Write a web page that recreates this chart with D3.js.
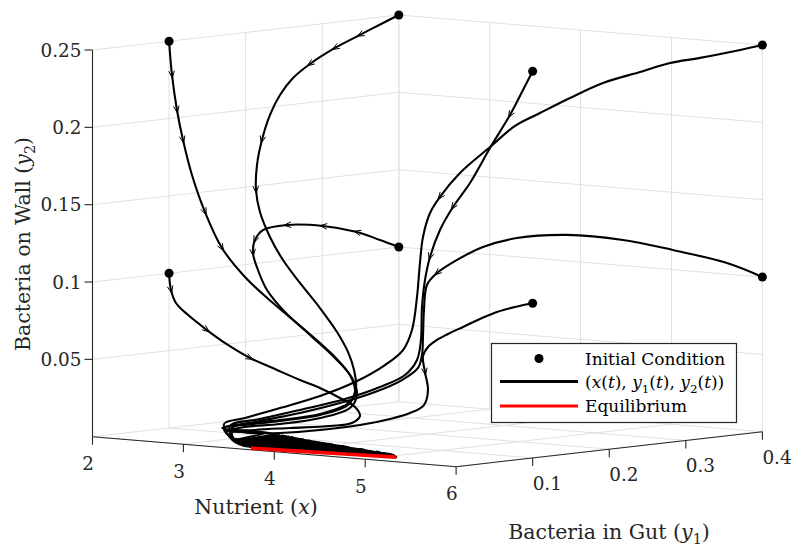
<!DOCTYPE html>
<html>
<head>
<meta charset="utf-8">
<script src="https://cdn.jsdelivr.net/npm/d3@7"></script>
<style>
body { margin: 0; background: #fff; }
svg { display: block; font-family: "DejaVu Serif", serif; }
</style>
</head>
<body>
<svg id="chart" width="793" height="548"></svg>
<script>
// axis ticks
var xTicks = [2, 3, 4, 5, 6];
var xTickLabels = ["2", "3", "4", "5", "6"];
var y1Ticks = [0.1, 0.2, 0.3, 0.4];
var y1TickLabels = ["0.1", "0.2", "0.3", "0.4"];
var zTicks = [0.05, 0.1, 0.15, 0.2, 0.25];
var zTickLabels = ["0.05", "0.1", "0.15", "0.2", "0.25"];

// initial conditions (x, y1, y2)
var icX  = [2, 2, 2, 2, 6, 6, 6, 6];
var icY1 = [0.1, 0.4, 0.4, 0.1, 0.1, 0.4, 0.4, 0.1];
var icY2 = [0.25, 0.25, 0.1, 0.1, 0.25, 0.25, 0.1, 0.1];

// trajectories [x, y1, y2] (the tail oscillates on the floor)
var traj1 = [[2,0.1,0.25],[2,0.1038,0.228],[2,0.1103,0.205],[2,0.1182,0.1851],[2,0.1299,0.1618],
  [2.1,0.135,0.1381],[2.1,0.1572,0.1136],[2.2,0.1754,0.0943],[2.2,0.212,0.0754],[2.3,0.2419,0.0568],
  [2.3,0.2784,0.0385],[2.3,0.3006,0.0243],[2.3,0.3072,0.013],[2.3,0.298,0.0051],[2.3,0.2615,0.0007],
  [2.32,0.207,0],[2.32,0.161,0],[2.35,0.13,0],
  [3.0,0.065,0],[3.1,0.113,0],[3.25,0.04,0],[3.35,0.105,0],[3.5,0.019,0],[3.6,0.095,0],[3.75,0.017,0],
  [3.85,0.086,0],[4.0,0.02,0],[4.1,0.076,0],[4.25,0.021,0],[4.35,0.067,0],[4.5,0.022,0],[4.6,0.058,0],
  [4.75,0.025,0],[4.85,0.048,0],[5.05,0.03,0]];
var traj2 = [[2,0.4,0.25],[2,0.382,0.2465],[2,0.3493,0.24],[2,0.3167,0.2334],[2,0.284,0.2249],
  [2,0.2618,0.2171],[2,0.2448,0.2071],[2,0.2318,0.1949],[2,0.2213,0.1793],[2,0.2148,0.1635],
  [2,0.2135,0.1474],[2,0.2187,0.1329],[2.1,0.2199,0.1172],[2.1,0.2369,0.1013],[2.2,0.2472,0.0864],
  [2.2,0.2733,0.0687],[2.3,0.2837,0.0531],[2.3,0.298,0.0394],[2.3,0.3059,0.0273],[2.3,0.3085,0.0155],
  [2.3,0.3006,0.0069],[2.3,0.2615,0.0013],[2.26,0.2135,0],[2.26,0.168,0],[2.34,0.129,0],
  [3.0,0.116,0],[3.15,0.05,0],[3.25,0.108,0],[3.4,0.027,0],[3.5,0.099,0],[3.65,0.016,0],[3.75,0.09,0],
  [3.9,0.019,0],[4.0,0.08,0],[4.15,0.02,0],[4.25,0.07,0],[4.4,0.022,0],[4.5,0.061,0],[4.65,0.024,0],
  [4.75,0.052,0],[4.9,0.028,0],[4.95,0.043,0],[5.06,0.031,0]];
var traj3 = [[6,0.1,0.25],[5.8,0.1111,0.2363],[5.5,0.1297,0.2176],[5.1,0.1511,0.1931],[4.8,0.1606,0.1685],
  [4.6,0.1621,0.1519],[4.4,0.1689,0.1357],[4.2,0.1796,0.1167],[4.0,0.1968,0.0999],[3.8,0.2166,0.0803],
  [3.6,0.239,0.0568],[3.5,0.2457,0.043],[3.4,0.2419,0.033],[3.3,0.2211,0.0259],[3.2,0.1873,0.0196],
  [3.1,0.1404,0.0147],[3.0,0.1,0.0106],[2.9,0.0727,0.0072],
  [3.2,0.045,0],[3.3,0.107,0],[3.45,0.023,0],[3.55,0.097,0],[3.7,0.016,0],[3.8,0.088,0],[3.95,0.019,0],
  [4.05,0.078,0],[4.2,0.021,0],[4.3,0.069,0],[4.45,0.022,0],[4.55,0.06,0],[4.7,0.025,0],[4.8,0.05,0],
  [4.95,0.029,0],[5.05,0.03,0]];
var traj4 = [[6,0.4,0.25],[5.9,0.3826,0.2473],[5.7,0.3541,0.2428],[5.5,0.3387,0.2394],[5.3,0.3232,0.2335],
  [5.1,0.2987,0.2268],[4.9,0.2793,0.2172],[4.7,0.2639,0.2074],[4.5,0.255,0.1986],[4.3,0.2461,0.1845],
  [4.1,0.2306,0.1676],[3.9,0.2282,0.1513],[3.8,0.2271,0.1405],[3.7,0.2298,0.1244],[3.6,0.2377,0.1066],
  [3.5,0.2457,0.0837],[3.4,0.251,0.0616],[3.3,0.2512,0.0481],[3.2,0.2395,0.0386],[3.1,0.2122,0.0287],
  [3.0,0.1784,0.0211],[2.9,0.138,0.0151],[2.8,0.1042,0.0101],[2.7,0.0887,0.0066],
  [3.3,0.035,0],[3.15,0.112,0],[3.55,0.017,0],[3.45,0.101,0],[3.8,0.018,0],[3.7,0.091,0],[4.05,0.02,0],
  [3.95,0.082,0],[4.3,0.021,0],[4.2,0.072,0],[4.55,0.023,0],[4.45,0.063,0],[4.8,0.026,0],[4.7,0.054,0],
  [5.0,0.029,0],[4.9,0.045,0],[5.04,0.03,0]];
var traj5 = [[2,0.4,0.1],[2,0.3754,0.1059],[2,0.3454,0.1128],[2,0.301,0.1192],[2,0.254,0.1225],
  [2,0.2226,0.121],[2,0.2122,0.1152],[2,0.2096,0.1069],[2.1,0.2042,0.0967],[2.1,0.216,0.0831],
  [2.2,0.2276,0.0687],[2.2,0.2603,0.052],[2.3,0.2811,0.0364],[2.3,0.3033,0.0223],[2.3,0.3098,0.0109],
  [2.3,0.3006,0.003],[2.41,0.249,0],[2.49,0.187,0],[2.43,0.148,0],[2.53,0.111,0],
  [2.9,0.118,0],[3.1,0.055,0],[3.2,0.11,0],[3.35,0.031,0],[3.45,0.101,0],[3.6,0.016,0],[3.7,0.091,0],
  [3.85,0.018,0],[3.95,0.082,0],[4.1,0.02,0],[4.2,0.072,0],[4.35,0.021,0],[4.45,0.063,0],[4.6,0.024,0],
  [4.7,0.054,0],[4.85,0.027,0],[4.92,0.044,0],[5.07,0.031,0]];
var traj6 = [[6,0.4,0.1],[5.9,0.3656,0.1105],[5.7,0.3188,0.1206],[5.5,0.2773,0.1285],[5.2,0.2398,0.1324],
  [4.9,0.2101,0.1306],[4.6,0.2013,0.1239],[4.4,0.1911,0.1151],[4.2,0.1887,0.1058],[4.0,0.1994,0.0965],
  [3.8,0.2192,0.0782],[3.6,0.2417,0.0598],[3.5,0.2522,0.0458],[3.4,0.2589,0.0366],[3.3,0.2498,0.0288],
  [3.2,0.2265,0.0219],[3.1,0.1926,0.0162],[3.0,0.1523,0.0116],[2.9,0.1119,0.0082],[2.8,0.0872,0.0046],
  [3.0,0.065,0],[3.2,0.11,0],[3.3,0.035,0],[3.5,0.099,0],[3.6,0.016,0],[3.8,0.088,0],[3.9,0.019,0],
  [4.1,0.076,0],[4.2,0.021,0],[4.4,0.065,0],[4.5,0.022,0],[4.7,0.054,0],[4.8,0.026,0],[4.95,0.043,0],
  [5.05,0.03,0]];
var traj7 = [[2,0.1,0.1],[2,0.1025,0.089],[2,0.109,0.0803],[2,0.1234,0.0723],[2,0.1495,0.0605],
  [2,0.1769,0.0493],[2.1,0.1938,0.0404],[2.1,0.2264,0.0314],[2.2,0.2472,0.0236],[2.2,0.2733,0.017],
  [2.3,0.2876,0.0102],[2.3,0.3072,0.0033],[2.55,0.284,0],[2.89,0.233,0],[2.92,0.201,0],
  [2.78,0.166,0],[2.66,0.1335,0],[2.67,0.0998,0],
  [3.1,0.055,0],[3.05,0.115,0],[3.35,0.031,0],[3.4,0.103,0],[3.65,0.016,0],[3.65,0.093,0],[3.95,0.019,0],
  [3.9,0.084,0],[4.25,0.021,0],[4.15,0.074,0],[4.55,0.023,0],[4.4,0.065,0],[4.85,0.027,0],[4.65,0.056,0],
  [5.0,0.029,0],[4.85,0.048,0],[5.05,0.03,0]];
var traj8 = [[6,0.1,0.1],[5.8,0.1007,0.0966],[5.6,0.1009,0.0924],[5.4,0.1024,0.0868],[5.2,0.104,0.0806],
  [5.0,0.1081,0.0748],[4.8,0.1175,0.0695],[4.6,0.1295,0.0633],[4.4,0.1467,0.0555],[4.2,0.173,0.0427],
  [4.0,0.2007,0.0285],[3.8,0.2192,0.0168],[3.7,0.2128,0.0115],[3.6,0.1986,0.008],[3.5,0.1713,0.0051],
  [3.4,0.1309,0.0037],[3.3,0.0905,0.0036],[3.2,0.0632,0.0046],[3.1,0.0516,0.0055],
  [3.35,0.031,0],[3.25,0.108,0],[3.5,0.019,0],[3.6,0.095,0],[3.7,0.016,0],[3.9,0.084,0],[4.0,0.02,0],
  [4.25,0.07,0],[4.35,0.021,0],[4.55,0.06,0],[4.65,0.024,0],[4.85,0.048,0],[4.95,0.029,0],[5.08,0.031,0]];
var trajectories = [traj1, traj2, traj3, traj4, traj5, traj6, traj7, traj8];

// where the direction arrows sit (point index along each trajectory)
var arrowIdx = [[1,2,3,5,6], [2,3,4,8,10], [2,5,7], [11], [2,3,4,6,7], [8], [1,4,6], [9]];

// equilibrium line
var eqX  = [3.65, 4.0, 4.5, 5.08];
var eqY1 = [0.011, 0.015, 0.022, 0.031];
var eqY2 = [0, 0, 0, 0];

var svg = d3.select("#chart");

// 3-D box projected onto the page
var origin = [92.5, 436.7];
var ex = [363.6, 30], ey = [306.3, -35], ez = [0, -386.7];
var sx = d3.scaleLinear().domain([2, 6]).range([0, 1]);
var sy = d3.scaleLinear().domain([0, 0.4]).range([0, 1]);
var sz = d3.scaleLinear().domain([0, 0.25]).range([0, 1]);

function proj(p) {
    var a = sx(p[0]), b = sy(p[1]), c = sz(p[2]);
    return [origin[0] + a * ex[0] + b * ey[0] + c * ez[0],
            origin[1] + a * ex[1] + b * ey[1] + c * ez[1]];
}

var gridColor = "#e1e1e1", axisColor = "#262626";
var grid = svg.append("g").attr("stroke", gridColor).attr("stroke-width", 1);

function seg(g, p, q) {
    var a = proj(p), b = proj(q);
    g.append("line").attr("x1", a[0]).attr("y1", a[1]).attr("x2", b[0]).attr("y2", b[1]);
}

// floor
xTicks.forEach(function(x) { seg(grid, [x, 0, 0], [x, 0.4, 0]); });
[0].concat(y1Ticks).forEach(function(y) { seg(grid, [2, y, 0], [6, y, 0]); });
// back wall x = 2
y1Ticks.forEach(function(y) { seg(grid, [2, y, 0], [2, y, 0.25]); });
zTicks.forEach(function(z) { seg(grid, [2, 0, z], [2, 0.4, z]); });
// back wall y1 = 0.4
xTicks.forEach(function(x) { seg(grid, [x, 0.4, 0], [x, 0.4, 0.25]); });
zTicks.forEach(function(z) { seg(grid, [2, 0.4, z], [6, 0.4, z]); });

// axes
var axes = svg.append("g").attr("stroke", axisColor).attr("stroke-width", 1.1);
seg(axes, [2, 0, 0], [2, 0, 0.25]);
seg(axes, [2, 0, 0], [6, 0, 0]);
seg(axes, [6, 0, 0], [6, 0.4, 0]);

var labels = svg.append("g").attr("fill", axisColor).attr("font-size", 18.4);

zTicks.forEach(function(z, i) {
    var p = proj([2, 0, z]);
    axes.append("line").attr("x1", p[0] - 8).attr("y1", p[1]).attr("x2", p[0]).attr("y2", p[1]);
    labels.append("text").attr("x", p[0] - 11).attr("y", p[1] + 6.7)
        .attr("text-anchor", "end").text(zTickLabels[i]);
});
xTicks.forEach(function(x, i) {
    var p = proj([x, 0, 0]);
    axes.append("line").attr("x1", p[0]).attr("y1", p[1]).attr("x2", p[0]).attr("y2", p[1] + 8);
    labels.append("text").attr("x", p[0] + 1.5).attr("y", p[1] + 33.5)
        .attr("text-anchor", "end").text(xTickLabels[i]);
});
y1Ticks.forEach(function(y, i) {
    var p = proj([6, y, 0]);
    axes.append("line").attr("x1", p[0]).attr("y1", p[1]).attr("x2", p[0]).attr("y2", p[1] + 8);
    labels.append("text").attr("x", p[0]).attr("y", p[1] + 32)
        .attr("text-anchor", "start").text(y1TickLabels[i]);
});

// text with italic letters and subscripts
function mathText(sel, parts) {
    var shift = 0;
    parts.forEach(function(pt) {
        var t = sel.append("tspan").text(pt[0]);
        if (pt[1] == "i") t.attr("font-style", "italic");
        if (pt[1] == "s") {
            t.attr("font-size", "0.7em").attr("dy", 5 - shift);
            shift = 5;
        } else if (shift) {
            t.attr("dy", -shift);
            shift = 0;
        }
    });
}

var titles = svg.append("g").attr("fill", axisColor).attr("font-size", 20.5);
mathText(titles.append("text").attr("x", 256).attr("y", 514).attr("text-anchor", "middle"),
    [["Nutrient (", "n"], ["x", "i"], [")", "n"]]);
mathText(titles.append("text").attr("x", 609).attr("y", 539).attr("text-anchor", "middle"),
    [["Bacteria in Gut (", "n"], ["y", "i"], ["1", "s"], [")", "n"]]);
mathText(titles.append("text").attr("transform", "translate(29.5,244) rotate(-90)")
    .attr("text-anchor", "middle"),
    [["Bacteria on Wall (", "n"], ["y", "i"], ["2", "s"], [")", "n"]]);

// trajectories
var line = d3.line().curve(d3.curveCatmullRom.alpha(0.5));
var paths = svg.append("g").attr("fill", "none").attr("stroke", "#000")
    .attr("stroke-width", 2.1).attr("stroke-linejoin", "round").attr("stroke-linecap", "round");
trajectories.forEach(function(tr) {
    paths.append("path").attr("d", line(tr.map(proj)));
});

// direction arrows
var arrows = svg.append("g").attr("fill", "none").attr("stroke", "#000").attr("stroke-width", 1);
trajectories.forEach(function(tr, k) {
    arrowIdx[k].forEach(function(i) {
        var p = proj(tr[i]), a = proj(tr[i - 1]), b = proj(tr[i + 1]);
        var dx = b[0] - a[0], dy = b[1] - a[1], n = Math.sqrt(dx * dx + dy * dy);
        dx /= n; dy /= n;
        var tip = [p[0] + dx * 3, p[1] + dy * 3];
        var back = [tip[0] - dx * 7, tip[1] - dy * 7];
        arrows.append("path").attr("d",
            "M" + (back[0] - dy * 2.8) + "," + (back[1] + dx * 2.8) +
            "L" + tip[0] + "," + tip[1] +
            "L" + (back[0] + dy * 2.8) + "," + (back[1] - dx * 2.8));
    });
});

// equilibrium
var eqPts = eqX.map(function(x, i) { return [x, eqY1[i], eqY2[i]]; });
svg.append("path").attr("d", d3.line()(eqPts.map(proj)))
    .attr("fill", "none").attr("stroke", "#ff0000").attr("stroke-width", 3.6);

// initial conditions
svg.append("g").selectAll("circle")
    .data(icX.map(function(x, i) { return [x, icY1[i], icY2[i]]; }))
    .enter().append("circle")
    .attr("cx", function(d) { return proj(d)[0]; })
    .attr("cy", function(d) { return proj(d)[1]; })
    .attr("r", 4.5).attr("fill", "#000");

// legend
var lg = svg.append("g").attr("font-size", 17).attr("fill", "#000");
lg.append("rect").attr("x", 491.5).attr("y", 343.5).attr("width", 245).attr("height", 79)
    .attr("fill", "#fff").attr("stroke", "#262626").attr("stroke-width", 1.2);
lg.append("circle").attr("cx", 539).attr("cy", 358.5).attr("r", 4.5).attr("fill", "#000");
lg.append("line").attr("x1", 500).attr("x2", 578).attr("y1", 381.5).attr("y2", 381.5)
    .attr("stroke", "#000").attr("stroke-width", 2.8);
lg.append("line").attr("x1", 500).attr("x2", 578).attr("y1", 406).attr("y2", 406)
    .attr("stroke", "#ff0000").attr("stroke-width", 2.8);
lg.append("text").attr("x", 585).attr("y", 364.5).text("Initial Condition");
mathText(lg.append("text").attr("x", 585).attr("y", 387.5),
    [["(", "n"], ["x", "i"], ["(", "n"], ["t", "i"], ["), ", "n"],
     ["y", "i"], ["1", "s"], ["(", "n"], ["t", "i"], ["), ", "n"],
     ["y", "i"], ["2", "s"], ["(", "n"], ["t", "i"], ["))", "n"]]);
lg.append("text").attr("x", 585).attr("y", 412).text("Equilibrium");
</script>
</body>
</html>
